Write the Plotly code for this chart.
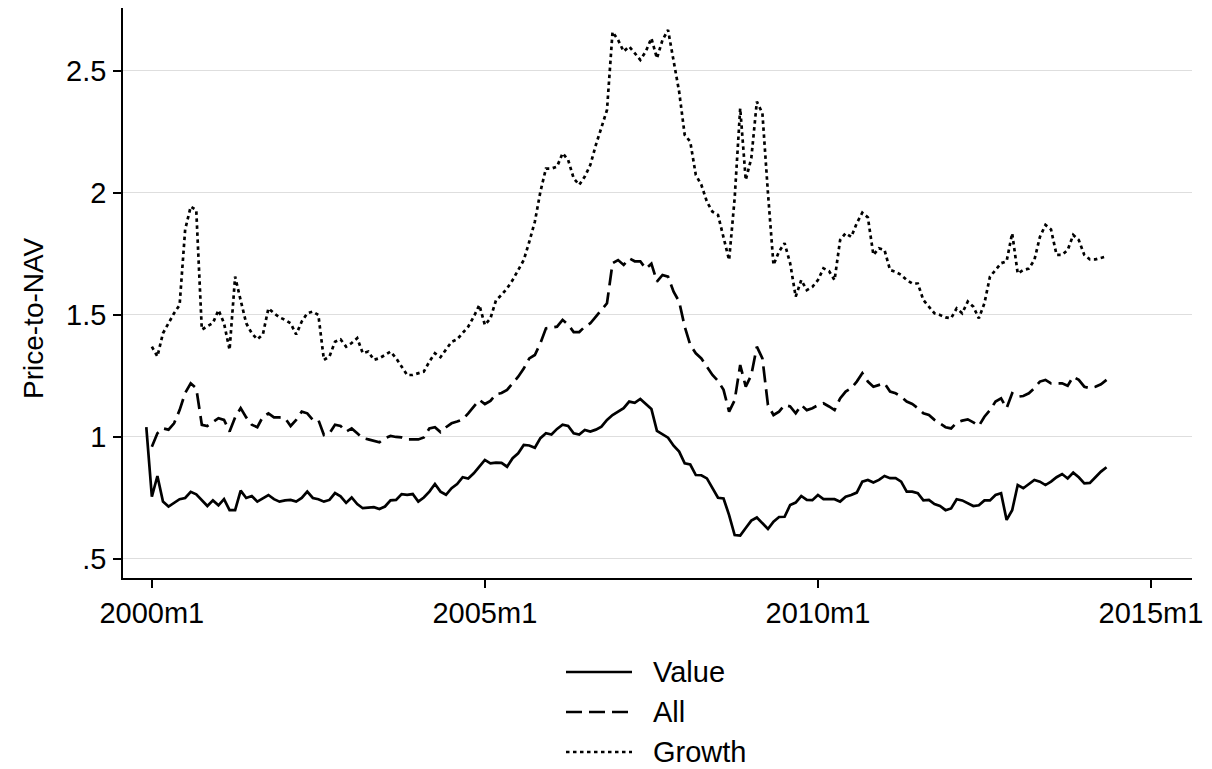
import plotly.graph_objects as go

# Stata monthly index: 2000m1 = 480
value_start = 479   # 1999m12
all_start = 480     # 2000m1
growth_start = 480  # 2000m1

value = [1.04,
 0.755, 0.84, 0.735, 0.715, 0.73, 0.745, 0.75, 0.775, 0.765, 0.74, 0.717, 0.74,
 0.72, 0.745, 0.70, 0.70, 0.78, 0.75, 0.758, 0.735, 0.75, 0.762, 0.745, 0.735,
 0.74, 0.742, 0.735, 0.75, 0.776, 0.75, 0.745, 0.735, 0.742, 0.77, 0.757, 0.73,
 0.752, 0.725, 0.708, 0.71, 0.712, 0.705, 0.715, 0.74, 0.742, 0.766, 0.763, 0.766,
 0.735, 0.752, 0.776, 0.807, 0.776, 0.763, 0.79, 0.807, 0.835, 0.83, 0.851, 0.878,
 0.906, 0.892, 0.895, 0.894, 0.878, 0.913, 0.933, 0.967, 0.965, 0.956, 0.995, 1.015,
 1.01, 1.033, 1.05, 1.045, 1.015, 1.01, 1.029, 1.022, 1.03, 1.042, 1.07, 1.09,
 1.104, 1.118, 1.145, 1.14, 1.156, 1.134, 1.115, 1.025, 1.011, 0.997, 0.964, 0.94,
 0.892, 0.887, 0.844, 0.843, 0.83, 0.79, 0.751, 0.748, 0.68, 0.598, 0.596, 0.627,
 0.657, 0.67, 0.646, 0.623, 0.653, 0.672, 0.673, 0.721, 0.731, 0.758, 0.742, 0.741,
 0.762, 0.745, 0.745, 0.745, 0.735, 0.755, 0.762, 0.772, 0.817, 0.824, 0.813, 0.824,
 0.84, 0.831, 0.831, 0.817, 0.776, 0.776, 0.77, 0.74, 0.742, 0.725, 0.717, 0.70,
 0.707, 0.745, 0.74, 0.728, 0.717, 0.72, 0.74, 0.74, 0.762, 0.769, 0.66, 0.70,
 0.803, 0.79, 0.807, 0.824, 0.817, 0.803, 0.817, 0.835, 0.848, 0.83, 0.854, 0.835,
 0.81, 0.812, 0.835, 0.858, 0.876]

all_funds = [
 0.96, 1.015, 1.035, 1.03, 1.056, 1.11, 1.18, 1.22, 1.20, 1.05, 1.045, 1.06,
 1.077, 1.07, 1.022, 1.08, 1.118, 1.08, 1.05, 1.04, 1.083, 1.097, 1.08, 1.08,
 1.077, 1.045, 1.07, 1.104, 1.097, 1.07, 1.07, 1.008, 1.015, 1.05, 1.045, 1.022,
 1.035, 1.015, 0.995, 0.99, 0.984, 0.978, 0.995, 1.004, 1.0, 0.998, 0.99, 0.99,
 0.99, 0.998, 1.035, 1.04, 1.02, 1.04, 1.056, 1.063, 1.072, 1.097, 1.124, 1.152,
 1.135, 1.148, 1.175, 1.18, 1.193, 1.22, 1.247, 1.28, 1.322, 1.336, 1.384, 1.445,
 1.45, 1.452, 1.48, 1.46, 1.43, 1.43, 1.452, 1.466, 1.493, 1.52, 1.548, 1.712,
 1.725, 1.705, 1.732, 1.72, 1.72, 1.689, 1.71, 1.637, 1.664, 1.657, 1.595, 1.555,
 1.452, 1.377, 1.343, 1.322, 1.288, 1.254, 1.23, 1.193, 1.104, 1.15, 1.295, 1.206,
 1.254, 1.37, 1.322, 1.131, 1.09, 1.104, 1.131, 1.125, 1.097, 1.131, 1.11, 1.118,
 1.13, 1.138, 1.125, 1.11, 1.158, 1.186, 1.2, 1.227, 1.261, 1.227, 1.206, 1.213,
 1.22, 1.186, 1.179, 1.165, 1.145, 1.135, 1.118, 1.097, 1.09, 1.07, 1.056, 1.04,
 1.035, 1.059, 1.067, 1.072, 1.06, 1.045, 1.083, 1.11, 1.145, 1.158, 1.118, 1.179,
 1.165, 1.168, 1.179, 1.2, 1.227, 1.234, 1.22, 1.22, 1.22, 1.21, 1.247, 1.234,
 1.206, 1.2, 1.206, 1.216, 1.234]

growth = [
 1.37, 1.33, 1.425, 1.466, 1.507, 1.541, 1.85, 1.944, 1.93, 1.44, 1.452, 1.467,
 1.52, 1.466, 1.357, 1.657, 1.56, 1.466, 1.425, 1.40, 1.42, 1.527, 1.507, 1.49,
 1.48, 1.466, 1.42, 1.473, 1.507, 1.514, 1.50, 1.316, 1.33, 1.39, 1.40, 1.37,
 1.385, 1.405, 1.343, 1.35, 1.316, 1.323, 1.336, 1.35, 1.323, 1.288, 1.254, 1.254,
 1.26, 1.268, 1.309, 1.343, 1.327, 1.357, 1.39, 1.40, 1.425, 1.452, 1.493, 1.541,
 1.459, 1.486, 1.56, 1.582, 1.609, 1.643, 1.684, 1.725, 1.80, 1.882, 2.005, 2.10,
 2.10, 2.108, 2.163, 2.135, 2.06, 2.033, 2.067, 2.115, 2.197, 2.265, 2.34, 2.66,
 2.627, 2.58, 2.6, 2.573, 2.545, 2.58, 2.634, 2.552, 2.627, 2.668, 2.538, 2.415,
 2.238, 2.21, 2.074, 2.033, 1.964, 1.923, 1.91, 1.814, 1.725, 1.978, 2.347, 2.053,
 2.142, 2.374, 2.327, 2.0, 1.705, 1.76, 1.794, 1.712, 1.575, 1.643, 1.602, 1.615,
 1.643, 1.691, 1.68, 1.643, 1.807, 1.835, 1.82, 1.876, 1.919, 1.90, 1.746, 1.773,
 1.766, 1.684, 1.677, 1.664, 1.643, 1.629, 1.629, 1.561, 1.534, 1.507, 1.50, 1.49,
 1.487, 1.527, 1.507, 1.555, 1.534, 1.486, 1.548, 1.657, 1.684, 1.712, 1.72, 1.835,
 1.67, 1.684, 1.69, 1.725, 1.82, 1.869, 1.85, 1.746, 1.746, 1.766, 1.828, 1.807,
 1.746, 1.728, 1.728, 1.735, 1.74]

x_tickvals = [480, 540, 600, 660]
x_ticktext = ["2000m1", "2005m1", "2010m1", "2015m1"]
y_tickvals = [0.5, 1, 1.5, 2, 2.5]
y_ticktext = [".5", "1", "1.5", "2", "2.5"]

series_names = ["Value", "All", "Growth"]
series_dash = ["solid", "16px,7px", "3.5px,3.5px"]

FONT = "Liberation Sans, Arial, sans-serif"
FS = 29
LW = 2.7

# The page body adds an 8px offset; figure coordinates below are in-figure pixels.
W, H = 1204, 761
plot_left, plot_right, plot_top, plot_bottom = 115, 1184, 0, 570
pw = plot_right - plot_left
ph = plot_bottom - plot_top

fig = go.Figure()
xs = [list(range(value_start, value_start + len(value))),
      list(range(all_start, all_start + len(all_funds))),
      list(range(growth_start, growth_start + len(growth)))]
ys = [value, all_funds, growth]
for name, x, y, dash in zip(series_names, xs, ys, series_dash):
    fig.add_trace(go.Scatter(x=x, y=y, mode="lines", name=name,
                             line=dict(color="black", width=LW, dash=dash)))

# Custom legend (Stata style): line sample + label, stacked below the plot
leg_y_px = [664, 704, 744]
for name, dash, ypx in zip(series_names, series_dash, leg_y_px):
    yp = (plot_bottom - ypx) / ph
    fig.add_shape(type="line", xref="paper", yref="paper",
                  x0=(558 - plot_left) / pw, x1=(624 - plot_left) / pw, y0=yp, y1=yp,
                  line=dict(color="black", width=LW, dash=dash))
    fig.add_annotation(xref="paper", yref="paper", x=(643 - plot_left) / pw, y=yp,
                       text=name, showarrow=False, xanchor="left", yanchor="middle",
                       font=dict(family=FONT, size=FS, color="black"))

# Y axis title
fig.add_annotation(xref="paper", yref="paper", x=(25 - plot_left) / pw,
                   y=(plot_bottom - 310) / ph, text="Price-to-NAV", textangle=-90,
                   showarrow=False, xanchor="center", yanchor="middle",
                   font=dict(family=FONT, size=28, color="black"))

fig.update_layout(
    width=W, height=H,
    margin=dict(l=plot_left, r=W - plot_right, t=plot_top, b=H - plot_bottom),
    paper_bgcolor="white", plot_bgcolor="white",
    showlegend=False,
    font=dict(family=FONT, size=FS, color="black"),
)
fig.update_xaxes(range=[474.8, 667.4], tickvals=x_tickvals, ticktext=x_ticktext,
                 showgrid=False, zeroline=False, showline=True, linecolor="black",
                 linewidth=1.5, ticks="outside", ticklen=8, tickwidth=1.5,
                 tickcolor="black", ticklabelstandoff=0,
                 tickfont=dict(family=FONT, size=FS, color="black"))
fig.update_yaxes(range=[0.422, 2.758], tickvals=y_tickvals, ticktext=y_ticktext,
                 showgrid=True, gridcolor="#dedede", gridwidth=1, zeroline=False,
                 showline=True, linecolor="black", linewidth=1.5, ticks="outside",
                 ticklen=8, tickwidth=1.5, tickcolor="black", ticklabelstandoff=1,
                 tickfont=dict(family=FONT, size=FS, color="black"))

fig.write_html("out.html")
